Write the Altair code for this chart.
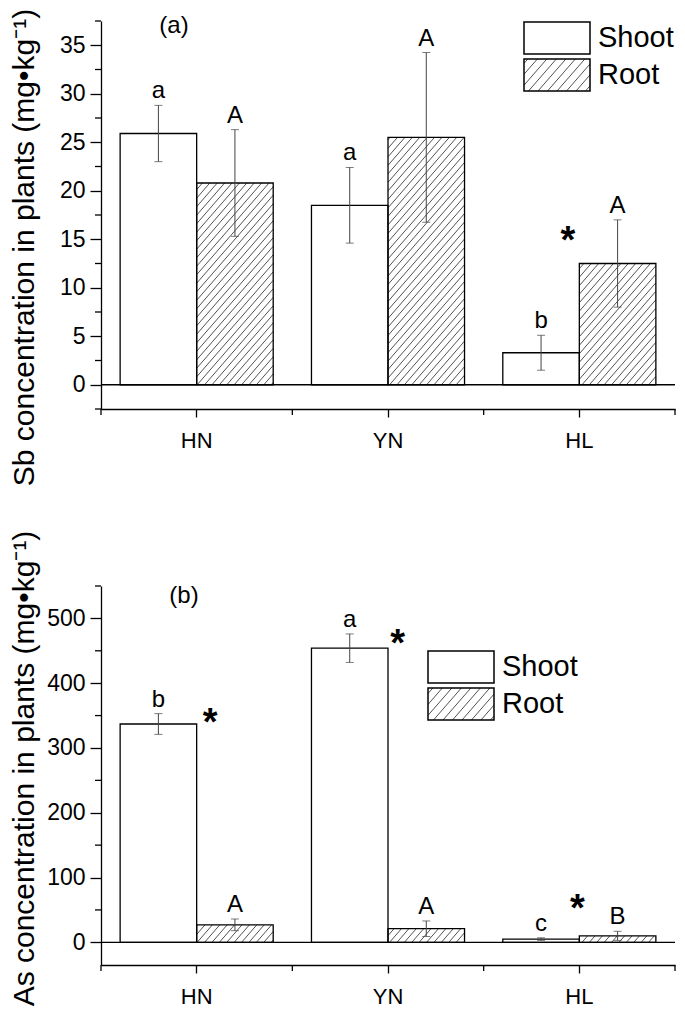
import altair as alt
import numpy as np
import pandas as pd

# ---------------- data ----------------
sites = ["HN", "YN", "HL"]
parts = ["Shoot", "Root"]

sb_shoot = [25.9, 18.5, 3.3]
sb_shoot_err = [2.9, 3.9, 1.8]
sb_root = [20.8, 25.5, 12.5]
sb_root_err = [5.5, 8.75, 4.5]
sb_shoot_letters = ["a", "a", "b"]
sb_root_letters = ["A", "A", "A"]
sb_star_x = [2.44]          # position in category units (0..3)
sb_star_y = [15.5]

as_shoot = [337, 454, 5]
as_shoot_err = [16, 22, 2]
as_root = [27, 21, 10]
as_root_err = [9, 12, 7]
as_shoot_letters = ["b", "a", "c"]
as_root_letters = ["A", "A", "B"]
as_star_x = [0.57, 1.55, 2.49]
as_star_y = [349, 472, 62]

sb_title = "Sb concentration in plants (mg\u2022kg\u207b\u00b9)"
as_title = "As concentration in plants (mg\u2022kg\u207b\u00b9)"

# ---------------- style ----------------
FONT = "Liberation Sans"
W = 574
PO = 0.25          # outer padding of the Shoot/Root sub-bands
SLOPE = 1.15       # hatch rise/run (pixels)
INK = "black"
ERR = "#444444"


def hatch_up(xl, xr, hb, sp, m=SLOPE):
    """diagonal hatch segments inside [xl,xr] x [0,hb] (pixel units, u upward)"""
    segs = []
    if hb <= 0:
        return segs
    n0 = int(np.floor((xl - hb / m) / sp)) - 1
    n1 = int(np.ceil(xr / sp)) + 1
    for n in range(n0, n1 + 1):
        c = n * sp
        t0 = max(0.0, xl - c)
        t1 = min(xr - c, hb / m)
        if t1 - t0 > 0.2:
            segs.append((c + t0, m * t0, c + t1, m * t1))
    return segs


def make_panel(shoot, shoot_err, root, root_err, s_lab, r_lab, star_x, star_y,
               ymin, ymax, H, majors, minors, title, title_y, tag, tag_x, tag_y,
               leg_x, leg_y):
    n = len(sites)
    S = W / n
    k = H / (ymax - ymin)

    rows = []
    for i, s in enumerate(sites):
        for p, vals, errs, labs in (("Shoot", shoot, shoot_err, s_lab),
                                    ("Root", root, root_err, r_lab)):
            rows.append({"site": s, "part": p, "v": vals[i],
                         "lo": vals[i] - errs[i], "hi": vals[i] + errs[i],
                         "lab": labs[i]})
    df = pd.DataFrame(rows)

    # hatch segments for the Root bars, in data units
    ss = 1.0 / (2 + 2 * PO)
    hrows = []
    for i in range(n):
        xl = (i + (PO + 1) * ss) * S
        xr = (i + (PO + 2) * ss) * S
        for x1, u1, x2, u2 in hatch_up(xl, xr, root[i] * k, 7.4):
            hrows.append({"hx": x1 / S, "hy": u1 / k, "hx2": x2 / S, "hy2": u2 / k})
    hdf = pd.DataFrame(hrows)

    yscale = alt.Scale(domain=[ymin, ymax], nice=False, zero=False)
    yaxis = alt.Axis(values=majors, title=title, titleX=-77, titleY=title_y,
                     titleAngle=270, titleBaseline="middle", titleAlign="center",
                     titleFont=FONT, titleFontSize=30, titleFontWeight="normal",
                     titleColor=INK, labelFont=FONT, labelFontSize=23,
                     labelColor=INK, labelPadding=5, tickSize=11, tickWidth=1.3,
                     tickColor=INK, domainColor=INK, domainWidth=1.3, grid=False)

    def Y(f):
        return alt.Y(f"{f}:Q", scale=yscale, axis=yaxis)

    xscale = alt.Scale(domain=sites, paddingInner=0, paddingOuter=0)
    xaxis = alt.Axis(title=None, labelFont=FONT, labelFontSize=22, labelColor=INK,
                     labelAngle=0, labelPadding=13, tickSize=8, tickWidth=1.3,
                     tickColor=INK, domainColor=INK, domainWidth=1.3, grid=False)

    def XB(axis=None):
        return alt.X("site:N", scale=xscale, axis=axis)

    xoff = alt.XOffset("part:N", scale=alt.Scale(domain=parts, paddingInner=0,
                                                  paddingOuter=PO))
    qscale = alt.Scale(domain=[0, n], nice=False, zero=False)

    base = alt.Chart(df)
    bars = base.mark_bar(fill="white").encode(
        x=XB(xaxis), xOffset=xoff, y=Y("v"), y2=alt.datum(0))
    hatch = alt.Chart(hdf).mark_rule(color="#333333", strokeWidth=0.85).encode(
        x=alt.X("hx:Q", scale=qscale, axis=None), x2="hx2:Q",
        y=Y("hy"), y2="hy2:Q")
    outline = base.mark_bar(fillOpacity=0, stroke=INK, strokeWidth=1.3).encode(
        x=XB(), xOffset=xoff, y=Y("v"), y2=alt.datum(0))
    err = base.mark_rule(color=ERR, strokeWidth=1).encode(
        x=XB(), xOffset=xoff, y=Y("lo"), y2="hi:Q")
    cap_lo = base.mark_tick(color=ERR, thickness=1, size=8).encode(
        x=XB(), xOffset=xoff, y=Y("lo"))
    cap_hi = base.mark_tick(color=ERR, thickness=1, size=8).encode(
        x=XB(), xOffset=xoff, y=Y("hi"))
    letters = base.mark_text(font=FONT, fontSize=24, baseline="alphabetic",
                             dy=-7, color=INK).encode(
        x=XB(), xOffset=xoff, y=Y("hi"), text="lab:N")
    stars = alt.Chart(pd.DataFrame({"sx": star_x, "sy": star_y})).mark_text(
        text="*", font=FONT, fontSize=38, fontWeight="bold", baseline="middle",
        dy=8, color=INK).encode(
        x=alt.X("sx:Q", scale=qscale, axis=None), y=Y("sy"))

    zero = alt.Chart(pd.DataFrame({"z": [0]})).mark_rule(
        color=INK, strokeWidth=1.3).encode(y=Y("z"))
    yminor = alt.Chart(pd.DataFrame({"m": minors})).mark_rule(
        color=INK, strokeWidth=1.3).encode(
        y=Y("m"), x=alt.value(0), x2=alt.value(-6))
    xbounds = alt.Chart(pd.DataFrame({"b": list(range(n + 1))})).mark_rule(
        color=INK, strokeWidth=1.3).encode(
        x=alt.X("b:Q", scale=qscale, axis=None),
        y=alt.value(H), y2=alt.value(H + 6))

    tagm = alt.Chart(pd.DataFrame({"t": [tag]})).mark_text(
        font=FONT, fontSize=24, baseline="middle", color=INK).encode(
        x=alt.value(tag_x), y=alt.value(tag_y), text="t:N")

    # legend (pixel positions inside the plot)
    SW, SH, GAP = 66, 32, 5
    leg = pd.DataFrame({
        "part": parts,
        "x0": [leg_x, leg_x], "x1": [leg_x + SW, leg_x + SW],
        "y0": [leg_y, leg_y + SH + GAP], "y1": [leg_y + SH, leg_y + 2 * SH + GAP],
        "tx": [leg_x + SW + 8, leg_x + SW + 8],
        "ty": [leg_y + SH / 2, leg_y + SH + GAP + SH / 2],
    })
    ry0 = leg_y + SH + GAP
    lrows = []
    for x1, u1, x2, u2 in hatch_up(leg_x, leg_x + SW, SH, 9.5):
        lrows.append({"lx": x1, "ly": ry0 + SH - u1, "lx2": x2, "ly2": ry0 + SH - u2})
    ldf = pd.DataFrame(lrows)

    def PX(f):
        return alt.X(f"{f}:Q", scale=None, axis=None)

    def PY(f):
        return alt.Y(f"{f}:Q", scale=None, axis=None)

    leg_fill = alt.Chart(leg).mark_rect(fill="white").encode(
        x=PX("x0"), x2="x1:Q", y=PY("y0"), y2="y1:Q")
    leg_hatch = alt.Chart(ldf).mark_rule(color="#333333", strokeWidth=0.85).encode(
        x=PX("lx"), x2="lx2:Q", y=PY("ly"), y2="ly2:Q")
    leg_box = alt.Chart(leg).mark_rect(fillOpacity=0, stroke=INK,
                                       strokeWidth=1.5).encode(
        x=PX("x0"), x2="x1:Q", y=PY("y0"), y2="y1:Q")
    leg_text = alt.Chart(leg).mark_text(font=FONT, fontSize=29, align="left",
                                        baseline="middle", color=INK).encode(
        x=PX("tx"), y=PY("ty"), text="part:N")

    layer = alt.layer(
        bars, hatch, outline, err, cap_lo, cap_hi, letters, stars,
        zero, yminor, xbounds, tagm, leg_fill, leg_hatch, leg_box, leg_text,
    ).resolve_scale(x="independent").properties(width=W, height=H)
    return layer


panel_a = make_panel(
    sb_shoot, sb_shoot_err, sb_root, sb_root_err, sb_shoot_letters,
    sb_root_letters, sb_star_x, sb_star_y,
    ymin=-2.5, ymax=37.5, H=388,
    majors=[0, 5, 10, 15, 20, 25, 30, 35],
    minors=[-2.5, 2.5, 7.5, 12.5, 17.5, 22.5, 27.5, 32.5, 37.5],
    title=sb_title, title_y=226, tag="(a)", tag_x=73, tag_y=5,
    leg_x=423, leg_y=1)

panel_b = make_panel(
    as_shoot, as_shoot_err, as_root, as_root_err, as_shoot_letters,
    as_root_letters, as_star_x, as_star_y,
    ymin=-35, ymax=550, H=379,
    majors=[0, 100, 200, 300, 400, 500],
    minors=[50, 150, 250, 350, 450, 550],
    title=as_title, title_y=182, tag="(b)", tag_x=83, tag_y=10,
    leg_x=327, leg_y=65)

chart = alt.vconcat(panel_a, panel_b, spacing=177, bounds="flush").properties(
    padding=0
).configure_view(stroke=None)

chart.save("out.html", embed_options={"renderer": "svg", "actions": False})
